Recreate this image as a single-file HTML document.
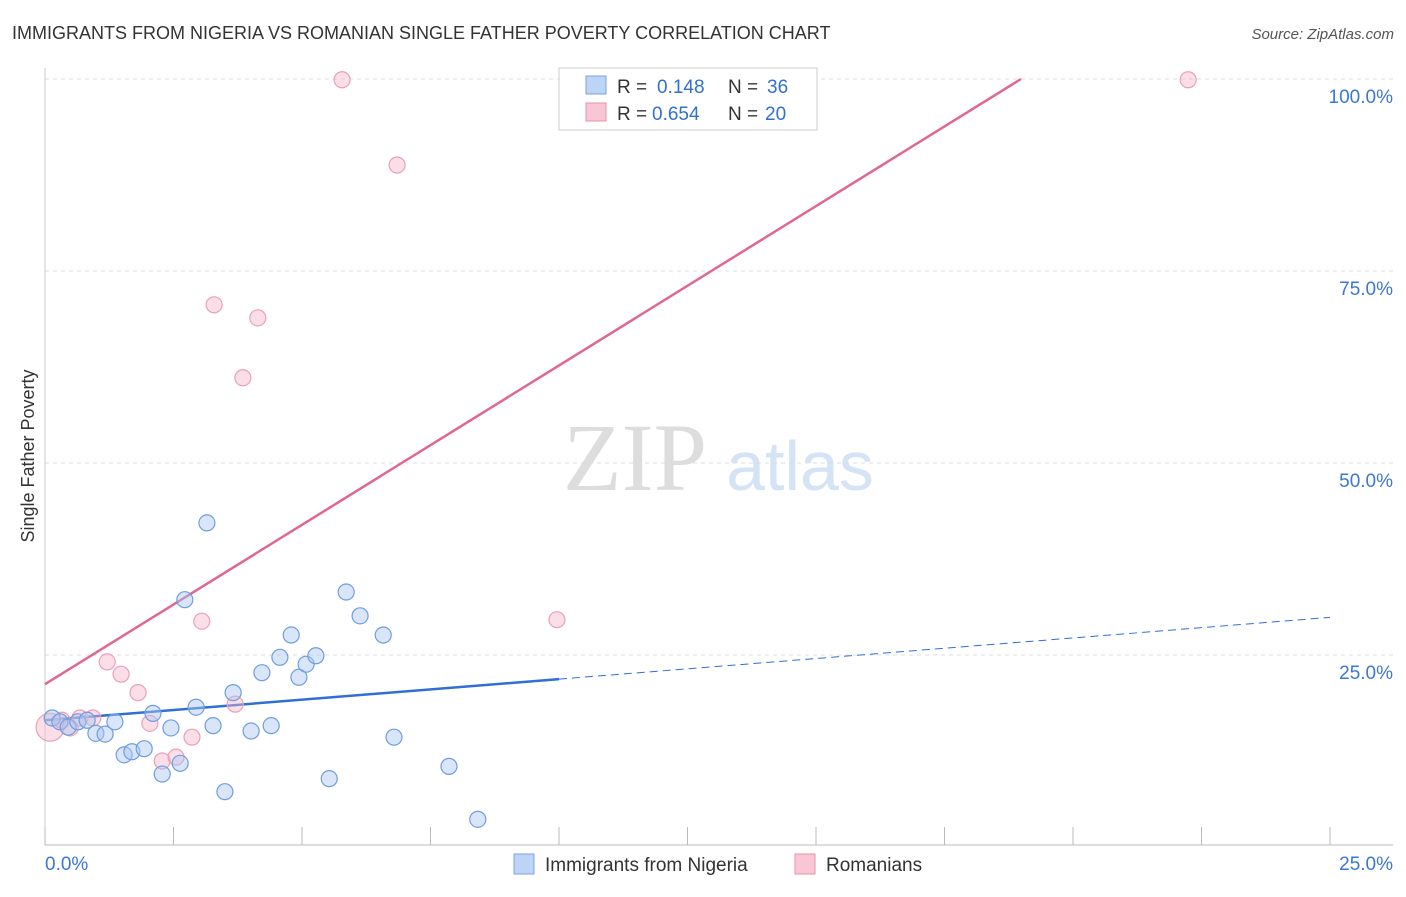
<!DOCTYPE html>
<html><head><meta charset="utf-8"><style>
body{margin:0;background:#fff;font-family:"Liberation Sans",sans-serif;}
svg text{font-family:"Liberation Sans",sans-serif;}
</style></head><body>
<svg id="c" width="1406" height="892" xmlns="http://www.w3.org/2000/svg">
<text x="12" y="39" font-size="18" fill="#333">IMMIGRANTS FROM NIGERIA VS ROMANIAN SINGLE FATHER POVERTY CORRELATION CHART</text>
<text x="1394" y="39" font-size="15" fill="#555" font-style="italic" text-anchor="end">Source: ZipAtlas.com</text>
<text x="34" y="456" font-size="18" fill="#333" text-anchor="middle" transform="rotate(-90 34 456)">Single Father Poverty</text>
<g>
<text x="635" y="490" font-size="96" fill="#ddd" font-family="Liberation Serif" text-anchor="middle" style="font-family:'Liberation Serif',serif">ZIP</text>
<text x="800" y="490" font-size="70" fill="#d4e3f5" text-anchor="middle">atlas</text>
</g>
<g id="grid"></g>
<g id="trend"></g>
<g id="pts"></g>
<g>
<rect x="559" y="68" width="258" height="62" fill="#fff" stroke="#ccc"/>
<rect x="586" y="76" width="20" height="18" fill="#bcd4f5" stroke="#7aa3e0"/>
<text x="617" y="93" font-size="19" fill="#333">R =</text><text x="657" y="93" font-size="19" fill="#3070d0">0.148</text>
<text x="728" y="93" font-size="19" fill="#333">N =</text><text x="767" y="93" font-size="19" fill="#3070d0">36</text>
<rect x="586" y="103" width="20" height="18" fill="#f9c6d5" stroke="#e890aa"/>
<text x="617" y="120" font-size="19" fill="#333">R =</text><text x="652" y="120" font-size="19" fill="#3070d0">0.654</text>
<text x="728" y="120" font-size="19" fill="#333">N =</text><text x="765" y="120" font-size="19" fill="#3070d0">20</text>
</g>
<g>
<rect x="514" y="854" width="20" height="20" fill="#bcd4f5" stroke="#7aa3e0"/>
<text x="545" y="871" font-size="19" fill="#333">Immigrants from Nigeria</text>
<rect x="795" y="854" width="20" height="20" fill="#f9c6d5" stroke="#e890aa"/>
<text x="826" y="871" font-size="19" fill="#333">Romanians</text>
</g>
</svg>
<script>
const xTicks=[0,2.5,5,7.5,10,12.5,15,17.5,20,22.5,25];
const yTicks=[25,50,75,100];
const yTickLabels=["25.0%","50.0%","75.0%","100.0%"];
const xEndLabels=["0.0%","25.0%"];
const nigeriaX=[0.14,0.29,0.45,0.64,0.82,0.99,1.17,1.36,1.54,1.69,1.93,2.10,2.28,2.45,2.63,2.72,2.94,3.15,3.27,3.50,3.66,4.01,4.22,4.40,4.57,4.79,4.94,5.08,5.27,5.53,5.86,6.13,6.58,6.79,7.86,8.42];
const nigeriaY=[16.8,16.3,15.6,16.3,16.5,14.8,14.7,16.3,12.0,12.4,12.8,17.4,9.5,15.5,10.9,32.2,18.2,42.2,15.8,7.2,20.1,15.1,22.7,15.8,24.7,27.6,22.1,23.8,24.9,8.9,33.2,30.1,27.6,14.3,10.5,3.6];
const romX=[0.10,0.33,0.49,0.68,0.93,1.21,1.48,1.81,2.04,2.28,2.55,2.86,3.05,3.29,3.70,3.85,4.14,5.78,6.85,9.96,22.24];
const romY=[15.6,16.5,15.5,16.8,16.8,24.1,22.5,20.1,16.1,11.2,11.7,14.3,29.4,70.6,18.6,61.1,68.9,99.9,88.8,29.6,99.9];
const nigeriaTrend=[16.5,0.536]; // intercept, slope
const romTrend=[21.2,4.15];
const X=v=>45+v*51.4, Y=v=>847-v*7.68;
const NS="http://www.w3.org/2000/svg";
function mk(p,t,a){const e=document.createElementNS(NS,t);for(const k in a)e.setAttribute(k,a[k]);p.appendChild(e);return e;}
const g=document.getElementById('grid');
let ax=mk(g,'line',{x1:45,y1:845,x2:1393,y2:845,stroke:'#bbb'});


let ay=mk(g,'line',{x1:45,y1:68,x2:45,y2:845,stroke:'#ccc'});


xTicks.forEach(t=>{const l=mk(g,'line',{x1:X(t),y1:827,x2:X(t),y2:845,stroke:'#bbb'});

});
yTicks.forEach((t,i)=>{const l=mk(g,'line',{x1:45,y1:Y(t),x2:1393,y2:Y(t),stroke:'#ddd','stroke-dasharray':'4 4'});


const tx=mk(g,'text',{x:1393,y:Y(t)+24,'font-size':19,fill:'#3a78d4','text-anchor':'end'});tx.textContent=yTickLabels[i];

});
const xl=mk(g,'text',{x:45,y:870,'font-size':19,fill:'#3a78d4'});xl.textContent=xEndLabels[0];


const xr=mk(g,'text',{x:1393,y:870,'font-size':19,fill:'#3a78d4','text-anchor':'end'});xr.textContent=xEndLabels[1];


const tr=document.getElementById('trend');
const nb=v=>nigeriaTrend[0]+nigeriaTrend[1]*v;
let l1=mk(tr,'line',{x1:X(0),y1:Y(nb(0)),x2:X(10),y2:Y(nb(10)),stroke:'#2f6fd6','stroke-width':2.5});


let l2=mk(tr,'line',{x1:X(10),y1:Y(nb(10)),x2:X(25),y2:Y(nb(25)),stroke:'#2f6fd6','stroke-width':1,'stroke-dasharray':'8 5'});


const xEnd=(100-romTrend[0])/romTrend[1];
let l3=mk(tr,'line',{x1:X(0),y1:Y(romTrend[0]),x2:X(xEnd),y2:Y(100),stroke:'#e0678f','stroke-width':2.5});


const pg=document.getElementById('pts');
romX.forEach((v,i)=>{const c=mk(pg,'circle',{cx:X(v),cy:Y(romY[i]),r:i==0?14:8,fill:'rgba(247,182,202,0.45)',stroke:'#eaa0b8','stroke-width':1.2});

});
nigeriaX.forEach((v,i)=>{const c=mk(pg,'circle',{cx:X(v),cy:Y(nigeriaY[i]),r:8,fill:'rgba(170,200,242,0.45)',stroke:'#6f9de0','stroke-width':1.2});

});
</script>
</body></html>
